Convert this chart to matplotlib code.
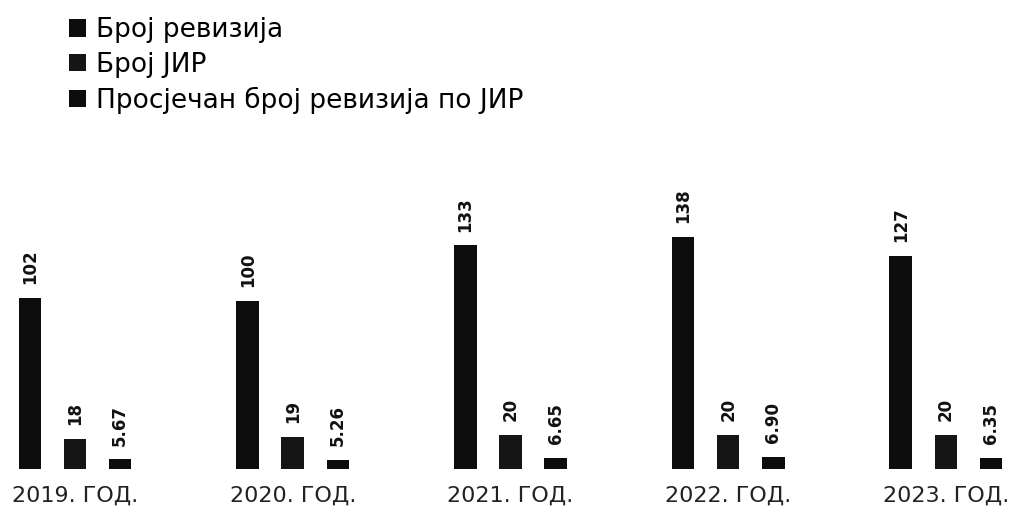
import numpy as np
import matplotlib.pyplot as plt

years = ["2019. ГОД.", "2020. ГОД.", "2021. ГОД.", "2022. ГОД.", "2023. ГОД."]
broj_revizija = [102, 100, 133, 138, 127]
broj_jir = [18, 19, 20, 20, 20]
prosjek = [5.67, 5.26, 6.65, 6.90, 6.35]
series_names = ["Број ревизија", "Број ЈИР", "Просјечан број ревизија по ЈИР"]
label_fmt = ["{:.0f}", "{:.0f}", "{:.2f}"]

plt.rcParams['font.family'] = ['DejaVu Sans']

fig = plt.figure(figsize=(10.09, 5.07), dpi=100)
ax = fig.add_axes([0, 0.075, 1, 0.6])

x = np.arange(len(years))
width = 0.104
offset = 0.207
colors = ["#0d0d0d", "#151515", "#0d0d0d"]

bars = []
for i, vals in enumerate([broj_revizija, broj_jir, prosjek]):
    b = ax.bar(x + (i - 1) * offset, vals, width, color=colors[i], label=series_names[i])
    bars.append(b)
    for rect, v in zip(b, vals):
        ax.annotate(label_fmt[i].format(v),
                    (rect.get_x() + rect.get_width() / 2, rect.get_height()),
                    xytext=(0, 10), textcoords="offset points",
                    ha="center", va="bottom", rotation=90,
                    fontsize=12, fontweight="bold", color="#111111")

ax.set_xlim(-0.345, 4.29)
ax.set_ylim(0, 181)
ax.set_xticks(x)
ax.set_xticklabels(years, fontsize=16, color="#222222")
ax.tick_params(axis="x", length=0, pad=12)
ax.set_yticks([])
for s in ax.spines.values():
    s.set_visible(False)

fig.legend(handles=bars, labels=series_names, loc="upper left",
           bbox_to_anchor=(0.045, 1.013), frameon=False, fontsize=19,
           handlelength=0.65, handleheight=0.65, handletextpad=0.35,
           labelspacing=0.33)

plt.savefig("out.png", dpi=100)
